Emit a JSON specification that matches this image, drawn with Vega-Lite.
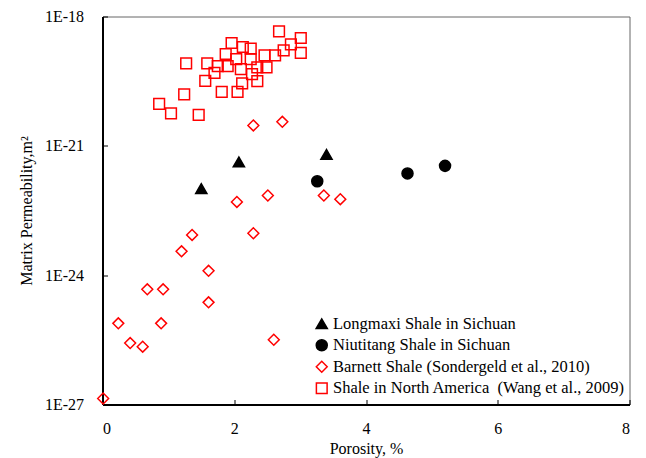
{
  "$schema": "https://vega.github.io/schema/vega-lite/v6.json",
  "autosize": {"type": "none"},
  "padding": {"left": 102.5, "top": 16.5, "right": 16.5, "bottom": 53.5},
  "width": 527,
  "height": 388,
  "background": "white",
  "config": {
    "view": {"stroke": "#666666", "strokeWidth": 1},
    "font": "Liberation Serif",
    "axis": {
      "labelFont": "Liberation Serif",
      "titleFont": "Liberation Serif",
      "labelFontSize": 16,
      "titleFontSize": 16,
      "labelColor": "black",
      "titleColor": "black",
      "titleFontWeight": "normal",
      "domainColor": "black",
      "domainWidth": 2,
      "tickColor": "black",
      "tickWidth": 1,
      "tickSize": -5,
      "grid": false
    },
    "legend": {
      "labelFont": "Liberation Serif",
      "labelFontSize": 16.5,
      "labelColor": "black",
      "labelLimit": 0
    }
  },
  "data": {
    "values": [
      {"series": "Longmaxi Shale in Sichuan", "porosity": 1.50, "perm": 1.02e-22},
      {"series": "Longmaxi Shale in Sichuan", "porosity": 2.07, "perm": 4.25e-22},
      {"series": "Longmaxi Shale in Sichuan", "porosity": 3.40, "perm": 6.31e-22},
      {"series": "Niutitang Shale in Sichuan", "porosity": 3.26, "perm": 1.51e-22},
      {"series": "Niutitang Shale in Sichuan", "porosity": 4.63, "perm": 2.29e-22},
      {"series": "Niutitang Shale in Sichuan", "porosity": 5.20, "perm": 3.43e-22},
      {"series": "Barnett Shale (Sondergeld et al., 2010)", "porosity": 2.29, "perm": 2.97e-21},
      {"series": "Barnett Shale (Sondergeld et al., 2010)", "porosity": 2.73, "perm": 3.61e-21},
      {"series": "Barnett Shale (Sondergeld et al., 2010)", "porosity": 2.04, "perm": 5.0e-23},
      {"series": "Barnett Shale (Sondergeld et al., 2010)", "porosity": 2.51, "perm": 7.05e-23},
      {"series": "Barnett Shale (Sondergeld et al., 2010)", "porosity": 3.36, "perm": 7.05e-23},
      {"series": "Barnett Shale (Sondergeld et al., 2010)", "porosity": 3.61, "perm": 5.78e-23},
      {"series": "Barnett Shale (Sondergeld et al., 2010)", "porosity": 1.36, "perm": 8.57e-24},
      {"series": "Barnett Shale (Sondergeld et al., 2010)", "porosity": 2.29, "perm": 9.37e-24},
      {"series": "Barnett Shale (Sondergeld et al., 2010)", "porosity": 1.20, "perm": 3.58e-24},
      {"series": "Barnett Shale (Sondergeld et al., 2010)", "porosity": 1.61, "perm": 1.26e-24},
      {"series": "Barnett Shale (Sondergeld et al., 2010)", "porosity": 0.68, "perm": 4.7e-25},
      {"series": "Barnett Shale (Sondergeld et al., 2010)", "porosity": 0.92, "perm": 4.7e-25},
      {"series": "Barnett Shale (Sondergeld et al., 2010)", "porosity": 1.61, "perm": 2.34e-25},
      {"series": "Barnett Shale (Sondergeld et al., 2010)", "porosity": 0.24, "perm": 7.62e-26},
      {"series": "Barnett Shale (Sondergeld et al., 2010)", "porosity": 0.89, "perm": 7.62e-26},
      {"series": "Barnett Shale (Sondergeld et al., 2010)", "porosity": 0.42, "perm": 2.66e-26},
      {"series": "Barnett Shale (Sondergeld et al., 2010)", "porosity": 0.61, "perm": 2.19e-26},
      {"series": "Barnett Shale (Sondergeld et al., 2010)", "porosity": 2.60, "perm": 3.18e-26},
      {"series": "Barnett Shale (Sondergeld et al., 2010)", "porosity": 0.01, "perm": 1.38e-27},
      {"series": "Shale in North America\u00a0 (Wang et al., 2009)", "porosity": 2.68, "perm": 4.53e-19},
      {"series": "Shale in North America\u00a0 (Wang et al., 2009)", "porosity": 3.01, "perm": 3.17e-19},
      {"series": "Shale in North America\u00a0 (Wang et al., 2009)", "porosity": 2.86, "perm": 2.26e-19},
      {"series": "Shale in North America\u00a0 (Wang et al., 2009)", "porosity": 2.75, "perm": 1.64e-19},
      {"series": "Shale in North America\u00a0 (Wang et al., 2009)", "porosity": 3.01, "perm": 1.44e-19},
      {"series": "Shale in North America\u00a0 (Wang et al., 2009)", "porosity": 1.96, "perm": 2.43e-19},
      {"series": "Shale in North America\u00a0 (Wang et al., 2009)", "porosity": 2.13, "perm": 1.96e-19},
      {"series": "Shale in North America\u00a0 (Wang et al., 2009)", "porosity": 2.25, "perm": 1.79e-19},
      {"series": "Shale in North America\u00a0 (Wang et al., 2009)", "porosity": 1.87, "perm": 1.35e-19},
      {"series": "Shale in North America\u00a0 (Wang et al., 2009)", "porosity": 2.03, "perm": 1.03e-19},
      {"series": "Shale in North America\u00a0 (Wang et al., 2009)", "porosity": 2.25, "perm": 1.03e-19},
      {"series": "Shale in North America\u00a0 (Wang et al., 2009)", "porosity": 2.46, "perm": 1.26e-19},
      {"series": "Shale in North America\u00a0 (Wang et al., 2009)", "porosity": 2.62, "perm": 1.26e-19},
      {"series": "Shale in North America\u00a0 (Wang et al., 2009)", "porosity": 1.27, "perm": 8.19e-20},
      {"series": "Shale in North America\u00a0 (Wang et al., 2009)", "porosity": 1.59, "perm": 8.19e-20},
      {"series": "Shale in North America\u00a0 (Wang et al., 2009)", "porosity": 1.75, "perm": 7.08e-20},
      {"series": "Shale in North America\u00a0 (Wang et al., 2009)", "porosity": 1.90, "perm": 7.08e-20},
      {"series": "Shale in North America\u00a0 (Wang et al., 2009)", "porosity": 2.10, "perm": 6.04e-20},
      {"series": "Shale in North America\u00a0 (Wang et al., 2009)", "porosity": 2.35, "perm": 6.61e-20},
      {"series": "Shale in North America\u00a0 (Wang et al., 2009)", "porosity": 2.49, "perm": 6.61e-20},
      {"series": "Shale in North America\u00a0 (Wang et al., 2009)", "porosity": 1.70, "perm": 4.95e-20},
      {"series": "Shale in North America\u00a0 (Wang et al., 2009)", "porosity": 2.27, "perm": 4.62e-20},
      {"series": "Shale in North America\u00a0 (Wang et al., 2009)", "porosity": 1.56, "perm": 3.23e-20},
      {"series": "Shale in North America\u00a0 (Wang et al., 2009)", "porosity": 2.12, "perm": 2.81e-20},
      {"series": "Shale in North America\u00a0 (Wang et al., 2009)", "porosity": 2.35, "perm": 3.18e-20},
      {"series": "Shale in North America\u00a0 (Wang et al., 2009)", "porosity": 1.81, "perm": 1.79e-20},
      {"series": "Shale in North America\u00a0 (Wang et al., 2009)", "porosity": 2.05, "perm": 1.79e-20},
      {"series": "Shale in North America\u00a0 (Wang et al., 2009)", "porosity": 1.24, "perm": 1.56e-20},
      {"series": "Shale in North America\u00a0 (Wang et al., 2009)", "porosity": 0.86, "perm": 9.44e-21},
      {"series": "Shale in North America\u00a0 (Wang et al., 2009)", "porosity": 1.04, "perm": 5.65e-21},
      {"series": "Shale in North America\u00a0 (Wang et al., 2009)", "porosity": 1.46, "perm": 5.24e-21}
    ]
  },
  "mark": {"type": "point", "opacity": 1, "strokeWidth": 1.5},
  "encoding": {
    "x": {
      "field": "porosity",
      "type": "quantitative",
      "scale": {"domain": [0, 8], "nice": false, "zero": false},
      "axis": {
        "values": [0, 2, 4, 6, 8],
        "title": "Porosity, %",
        "labelPadding": 21,
        "titleBaseline": "alphabetic",
        "titleY": 49,
        "titleAnchor": "middle"
      }
    },
    "y": {
      "field": "perm",
      "type": "quantitative",
      "scale": {"type": "log", "domain": [1e-27, 1e-18], "nice": false},
      "axis": {
        "values": [1e-27, 1e-24, 1e-21, 1e-18],
        "labelExpr": "'1E' + round(log(datum.value) / LN10)",
        "title": "Matrix Permeability,m²",
        "labelPadding": 24,
        "titleBaseline": "middle",
        "titleX": -76.5,
        "titleAnchor": "middle"
      }
    },
    "shape": {
      "field": "series",
      "type": "nominal",
      "scale": {
        "domain": ["Longmaxi Shale in Sichuan", "Niutitang Shale in Sichuan", "Barnett Shale (Sondergeld et al., 2010)", "Shale in North America\u00a0 (Wang et al., 2009)"],
        "range": ["triangle-up", "circle", "diamond", "square"]
      },
      "legend": {
        "title": null,
        "orient": "none",
        "legendX": 211,
        "legendY": 299,
        "padding": 0,
        "rowPadding": 3.5,
        "labelOffset": 3,
        "labelLimit": 0,
        "symbolStrokeWidth": 1.5
      }
    },
    "fill": {
      "field": "series",
      "type": "nominal",
      "scale": {
        "domain": ["Longmaxi Shale in Sichuan", "Niutitang Shale in Sichuan", "Barnett Shale (Sondergeld et al., 2010)", "Shale in North America\u00a0 (Wang et al., 2009)"],
        "range": ["black", "black", "transparent", "transparent"]
      },
      "legend": {"title": null}
    },
    "stroke": {
      "field": "series",
      "type": "nominal",
      "scale": {
        "domain": ["Longmaxi Shale in Sichuan", "Niutitang Shale in Sichuan", "Barnett Shale (Sondergeld et al., 2010)", "Shale in North America\u00a0 (Wang et al., 2009)"],
        "range": ["black", "black", "#ff0000", "#ff0000"]
      },
      "legend": {"title": null}
    },
    "size": {
      "field": "series",
      "type": "nominal",
      "scale": {
        "domain": ["Longmaxi Shale in Sichuan", "Niutitang Shale in Sichuan", "Barnett Shale (Sondergeld et al., 2010)", "Shale in North America\u00a0 (Wang et al., 2009)"],
        "range": [125, 115, 95, 80]
      },
      "legend": {"title": null}
    }
  }
}
